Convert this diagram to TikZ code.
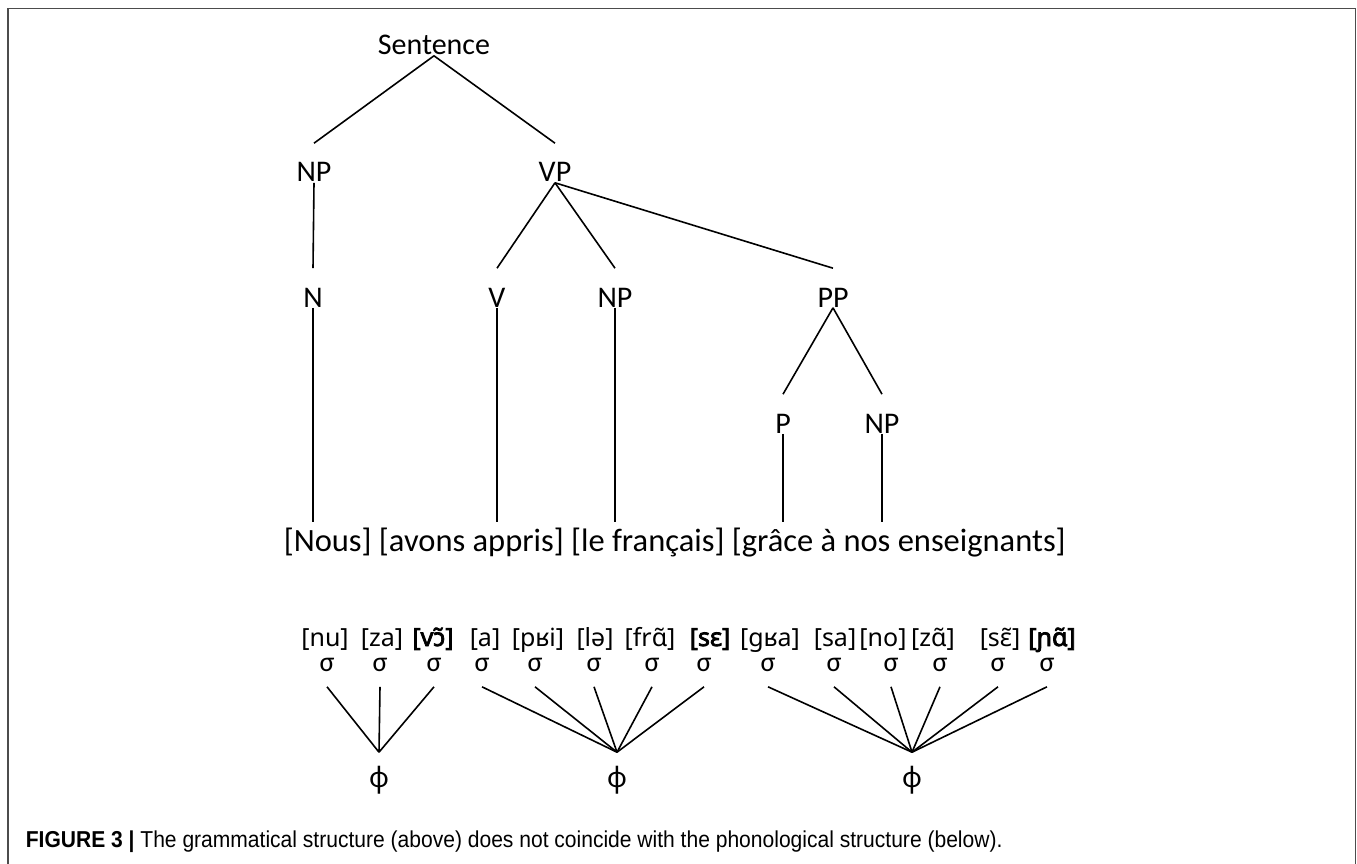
\documentclass[tikz,border=0pt]{standalone}
\usepackage{fontspec}
\setmainfont{Carlito}
\newfontfamily\ipafont[BoldFont={Noto Sans},BoldFeatures={FakeBold=3}]{Noto Sans}
\newfontfamily\capfont[FakeStretch=0.915]{Liberation Sans}
\usepackage{tikz}

\begin{document}
\begin{tikzpicture}[x=1pt,y=-1pt,line width=1.6pt,
    cat/.style={font=\fontsize{30}{36}\selectfont,inner sep=0pt,anchor=base,text height=38pt,text depth=0pt},
    syl/.style={font=\ipafont\fontsize{25}{30}\selectfont,inner sep=0pt,anchor=base},
    sig/.style={font=\fontsize{28}{34}\selectfont,inner sep=0pt,anchor=base,text height=12pt,text depth=15pt},
    phi/.style={font=\ipafont\fontsize{28}{34}\selectfont,inner sep=0pt,anchor=base,text height=34pt}]
    \useasboundingbox (0,0) rectangle (1357,864);
    % frame
    \draw[line width=1.4pt,black!70] (8,864) -- (8,8.5) -- (1355.5,8.5) -- (1355.5,864);

    % grammatical tree
    \node[cat] (S) at (434,55) {Sentence};
    \node[cat] (NPa) at (314,182) {NP};
    \node[cat] (VP) at (555,182) {VP};
    \node[cat] (N) at (313,307) {N};
    \node[cat] (V) at (497,307) {V};
    \node[cat] (NPb) at (615,307) {NP};
    \node[cat] (PP) at (833,307) {PP};
    \node[cat] (P) at (783,433) {P};
    \node[cat] (NPc) at (882,433) {NP};
    \node[cat,font=\fontsize{32.5}{38}\selectfont,anchor=base west,text height=28pt] (row) at (283,551)
        {[Nous] [avons appris] [le français] [grâce à nos enseignants]};

    \path[draw]
    (S.south) edge (NPa.north)
    (S.south) edge (VP.north)
    (NPa.south) edge (N.north)
    (VP.south) edge (V.north)
    (VP.south) edge (NPb.north)
    (VP.south) edge (PP.north)
    (PP.south) edge (P.north)
    (PP.south) edge (NPc.north)
    (N.south) edge (N |- row.north)
    (V.south) edge (V |- row.north)
    (NPb.south) edge (NPb |- row.north)
    (P.south) edge (P |- row.north)
    (NPc.south) edge (NPc |- row.north);

    % phonological structure
    \node[syl] (y1) at (325,646) {[nu]};
    \node[syl] (y2) at (382,646) {[za]};
    \node[syl] (y3) at (433,646) {\textbf{[vɔ̃]}};
    \node[syl] (y4) at (485,646) {[a]};
    \node[syl] (y5) at (538,646) {[pʁi]};
    \node[syl] (y6) at (595,646) {[lə]};
    \node[syl] (y7) at (650,646) {[frɑ̃]};
    \node[syl] (y8) at (710,646) {\textbf{[sɛ]}};
    \node[syl] (y9) at (770,646) {[gʁa]};
    \node[syl] (y10) at (835,646) {[sa]};
    \node[syl] (y11) at (883,646) {[no]};
    \node[syl] (y12) at (933,646) {[zɑ̃]};
    \node[syl] (y13) at (1000,646) {[sɛ̃]};
    \node[syl] (y14) at (1052,646) {\textbf{[ɲɑ̃]}};

    \node[sig] (sig1) at (327,671) {σ};
    \node[sig] (sig2) at (380,671) {σ};
    \node[sig] (sig3) at (434,671) {σ};
    \node[sig] (sig4) at (482,671) {σ};
    \node[sig] (sig5) at (535,671) {σ};
    \node[sig] (sig6) at (594,671) {σ};
    \node[sig] (sig7) at (652,671) {σ};
    \node[sig] (sig8) at (704,671) {σ};
    \node[sig] (sig9) at (768,671) {σ};
    \node[sig] (sig10) at (834,671) {σ};
    \node[sig] (sig11) at (891,671) {σ};
    \node[sig] (sig12) at (940,671) {σ};
    \node[sig] (sig13) at (998,671) {σ};
    \node[sig] (sig14) at (1047,671) {σ};

    \node[phi] (phi1) at (379,787) {ϕ};
    \node[phi] (phi2) at (617,787) {ϕ};
    \node[phi] (phi3) at (912,787) {ϕ};

    \path[draw]
    (sig1.south) edge (phi1.north)
    (sig2.south) edge (phi1.north)
    (sig3.south) edge (phi1.north)
    (sig4.south) edge (phi2.north)
    (sig5.south) edge (phi2.north)
    (sig6.south) edge (phi2.north)
    (sig7.south) edge (phi2.north)
    (sig8.south) edge (phi2.north)
    (sig9.south) edge (phi3.north)
    (sig10.south) edge (phi3.north)
    (sig11.south) edge (phi3.north)
    (sig12.south) edge (phi3.north)
    (sig13.south) edge (phi3.north)
    (sig14.south) edge (phi3.north);

    % caption
    \node[anchor=base west,inner sep=0pt,font=\capfont\fontsize{23}{26}\selectfont] (cap) at (25,847)
        {\textbf{FIGURE 3 |} The grammatical structure (above) does not coincide with the phonological structure (below).};
\end{tikzpicture}
\end{document}
